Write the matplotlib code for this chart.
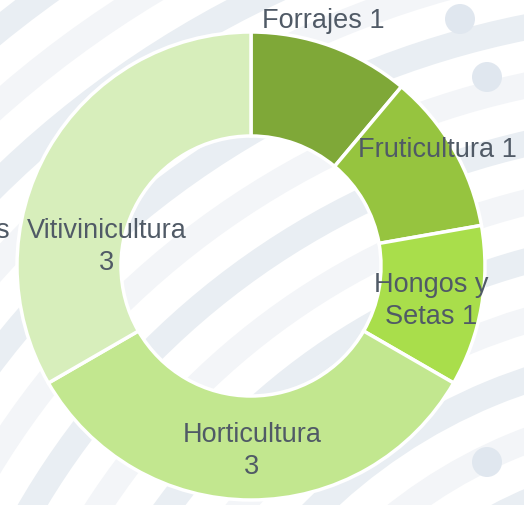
import matplotlib.pyplot as plt
from matplotlib.patches import Wedge, Circle

# data
categories = ["Forrajes", "Fruticultura", "Hongos y\nSetas", "Horticultura\n", "Vitivinicultura\n"]
values = [1, 1, 1, 3, 3]
colors = ["#7FA838", "#96C43F", "#A9DE4B", "#C2E78F", "#D7EEBB"]

# label spots in pixel coords (x, y from top)
label_pos = [(323, 21), (437, 150), (431, 301), (252, 451), (107, 247)]

W, H = 524, 506
fig = plt.figure(figsize=(W / 100, H / 100), dpi=100)
ax = fig.add_axes([0, 0, 1, 1])
ax.set_xlim(0, W)
ax.set_ylim(0, H)
ax.set_aspect("equal")
ax.axis("off")

def py(y):
    return H - y

# background: concentric bands
bg_c = (700, py(900))
for k in range(-8, 8):
    r = 775 + k * 57
    col = "#E9EEF3" if k % 2 == 0 else "#F3F5F8"
    ax.add_patch(Wedge(bg_c, r + 13, 0, 360, width=26, color=col, lw=0, zorder=0))
for (dx, dy) in [(460, 20), (487, 78), (487, 463)]:
    ax.add_patch(Circle((dx, py(dy)), 15, color="#E0E7EF", lw=0, zorder=0))

# donut
cx, cy, R = 251, py(267), 234
ax.pie(values, colors=colors, center=(cx, cy), radius=R, startangle=90,
       counterclock=False, frame=True,
       wedgeprops=dict(width=R - 130, edgecolor="white", linewidth=2.5))
ax.set_xlim(0, W)
ax.set_ylim(0, H)
ax.axis("off")

txt_kw = dict(ha="center", va="center", color="#505A66", fontsize=19.5,
              family="Liberation Sans", linespacing=1.3)
for cat, v, (lx, ly) in zip(categories, values, label_pos):
    if cat.endswith("\n"):
        s = cat + str(v)
    else:
        s = cat + " " + str(v)
    ax.text(lx, py(ly), s, **txt_kw)

# clipped label at left edge
ax.text(9, py(231), "s", ha="right", va="center", color="#505A66",
        fontsize=19.5, family="Liberation Sans")

fig.savefig("out.png", dpi=100)
